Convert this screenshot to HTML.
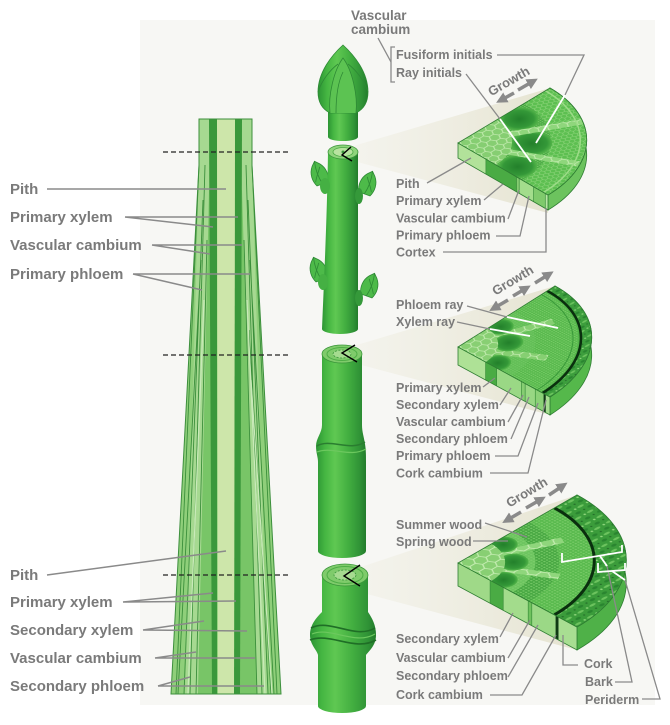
<!DOCTYPE html>
<html><head><meta charset="utf-8"><style>
html,body{margin:0;padding:0;background:#fff;}
svg{display:block;}
text{font-family:"Liberation Sans",Arial,sans-serif;font-weight:bold;fill:#7a7a7a;}
.L{font-size:15px;}
.R{font-size:12.5px;}
.ld{fill:none;stroke:#8a8a8a;stroke-width:1.5;}
.wl{fill:none;stroke:#ffffff;stroke-width:1.8;}
.ns{vector-effect:non-scaling-stroke;}
</style></head><body>
<svg width="670" height="725" viewBox="0 0 670 725" xmlns="http://www.w3.org/2000/svg">
<defs>
 <linearGradient id="stemG" x1="0" y1="0" x2="1" y2="0">
  <stop offset="0" stop-color="#2c9434"/>
  <stop offset="0.18" stop-color="#45b642"/>
  <stop offset="0.38" stop-color="#5fc852"/>
  <stop offset="0.65" stop-color="#42ae40"/>
  <stop offset="0.88" stop-color="#2f9236"/>
  <stop offset="1" stop-color="#237c2b"/>
 </linearGradient>
 <linearGradient id="coneG" x1="0" y1="0" x2="1" y2="0">
  <stop offset="0" stop-color="#f1f0e6" stop-opacity="0.5"/>
  <stop offset="1" stop-color="#e5e3d0"/>
 </linearGradient>
 <radialGradient id="bundleG" cx="0.5" cy="0.5" r="0.5">
  <stop offset="0" stop-color="#23802b"/>
  <stop offset="0.75" stop-color="#349838"/>
  <stop offset="1" stop-color="#52b449"/>
 </radialGradient>
 <pattern id="hex" patternUnits="userSpaceOnUse" width="0.135" height="0.0779">
  <path d="M0,0.039 L0.0225,0 L0.0675,0 L0.09,0.039 L0.0675,0.0779 L0.0225,0.0779 Z M0.09,0.039 L0.135,0.039" fill="none" stroke="#c6edb3" stroke-width="0.008"/>
 </pattern>
 <pattern id="hexS" patternUnits="userSpaceOnUse" width="0.075" height="0.0433">
  <path d="M0,0.02165 L0.0125,0 L0.0375,0 L0.05,0.02165 L0.0375,0.0433 L0.0125,0.0433 Z M0.05,0.02165 L0.075,0.02165" fill="none" stroke="#98da84" stroke-width="0.005"/>
 </pattern>
 <pattern id="mesh" patternUnits="userSpaceOnUse" width="0.022" height="0.022">
  <circle cx="0.011" cy="0.011" r="0.0072" fill="#7fd06e" opacity="0.8"/>
 </pattern>
 <pattern id="bark" patternUnits="userSpaceOnUse" width="0.1" height="0.08">
  <ellipse cx="0.03" cy="0.02" rx="0.025" ry="0.01" fill="#6cc35e"/>
  <ellipse cx="0.07" cy="0.06" rx="0.02" ry="0.012" fill="#2a8530"/>
  <circle cx="0.085" cy="0.02" r="0.008" fill="#8fd67c"/>
  <circle cx="0.02" cy="0.06" r="0.007" fill="#256f2a"/>
 </pattern>
 <clipPath id="secClip"><path d="M0,0 L1,0 A1,1 0 0 1 0,1 Z"/></clipPath>
 <marker id="ah" viewBox="0 0 10 10" refX="3" refY="5" markerWidth="3.2" markerHeight="3.2" orient="auto"><path d="M0,0 L10,5 L0,10 Z" fill="#8a8a8a"/></marker>
</defs>

<rect x="0" y="0" width="670" height="725" fill="#ffffff"/>
<rect x="140" y="20" width="515" height="685" fill="#f7f7f4"/>

<!-- ============ LEFT COLUMN ============ -->
<g>
 <polygon points="199,119 252,119 252,165 281,694 171,694 199,165" fill="#8fcf7a"/>
 <!-- light strips -->
 <polygon points="199,119 209,119 209,200 198,694 185,694 199,165" fill="#a6d991"/>
 <polygon points="242,119 252,119 252,165 268,694 257,694 242,200" fill="#a6d991"/>
 <!-- medium secondary bands -->
 <polygon points="209,190 212,190 212,694 198,694" fill="#78c567"/>
 <polygon points="240,190 242,190 257,694 240,694" fill="#78c567"/>
 <polygon points="209,119 217,119 217,694 212,694" fill="#3a983b"/>
 <polygon points="235,119 242,119 240,694 234,694" fill="#3a983b"/>
 <polygon points="217,119 235,119 234,694 218,694" fill="#cde6aa"/>
 <g fill="none" stroke-width="0.9">
  <path d="M205,165 L190,694 M203,200 L184,694 M201,260 L178,694 M199,165 L176,694 M207,240 L196,694" stroke="#3b8f3b"/>
  <path d="M246,165 L262,694 M248,200 L268,694 M250,260 L274,694 M252,165 L277,694 M244,240 L257,694 M249,330 L271,694" stroke="#3b8f3b"/>
  <path d="M204,300 L188,694 M247,300 L265,694 M251,380 L272,694" stroke="#c9eab9" stroke-width="1.2"/>
 </g>
 <polygon points="199,119 252,119 252,165 281,694 171,694 199,165" fill="none" stroke="#3c8f3c" stroke-width="1"/>
 <g stroke="#222" stroke-width="1.3" stroke-dasharray="5,3">
  <line x1="163" y1="152" x2="288" y2="152"/>
  <line x1="163" y1="355" x2="288" y2="355"/>
  <line x1="163" y1="575" x2="288" y2="575"/>
 </g>
</g>

<!-- left leaders -->
<g class="ld">
 <path d="M47,189 L226,189"/>
 <path d="M125,217 L238,217 M125,217 L213,227"/>
 <path d="M152,245 L242,245 M152,245 L210,254"/>
 <path d="M133,274 L250,274 M133,274 L202,290"/>
 <path d="M47,575 L226,551"/>
 <path d="M123,602 L236,601 M123,602 L213,593"/>
 <path d="M143,630 L247,631 M143,630 L204,621"/>
 <path d="M155,658 L255,658 M155,658 L196,652"/>
 <path d="M158,686 L264,686 M158,686 L190,677"/>
</g>
<text class="L" x="10" y="194">Pith</text>
<text class="L" x="10" y="222">Primary xylem</text>
<text class="L" x="10" y="250">Vascular cambium</text>
<text class="L" x="10" y="279">Primary phloem</text>
<text class="L" x="10" y="580">Pith</text>
<text class="L" x="10" y="607">Primary xylem</text>
<text class="L" x="10" y="635">Secondary xylem</text>
<text class="L" x="10" y="663">Vascular cambium</text>
<text class="L" x="10" y="691">Secondary phloem</text>

<!-- ============ CONES ============ -->
<polygon points="350,147 550,88 548,213 350,160" fill="url(#coneG)"/>
<polygon points="350,347 555,286 550,415 350,362" fill="url(#coneG)"/>
<polygon points="352,570 577,495 577,650 352,590" fill="url(#coneG)"/>

<!-- ============ STEMS ============ -->
<!-- piece 1 bud -->
<path d="M328,106 L328,137 A15,4 0 0 0 358,137 L358,106 Z" fill="url(#stemG)"/>
<path d="M343,45 C354,55 368,72 368,92 C368,104 362,110 356,113 L330,113 C324,110 318,104 318,92 C318,72 332,55 343,45 Z" fill="url(#stemG)" stroke="#2e8a35" stroke-width="0.8"/>
<path d="M330,113 C328,95 334,70 343,58 C352,70 358,95 356,113" fill="#5cc352" stroke="#2e8a35" stroke-width="0.8"/>
<path d="M318,92 C322,80 330,70 338,64 M368,92 C364,80 356,70 348,64 M336,113 C336,98 338,82 343,72" fill="none" stroke="#2e8a35" stroke-width="0.8"/>

<!-- piece 2 -->
<g>
 <g stroke="#2e8a35" stroke-width="0.8" fill="#4dba49">
  <g transform="translate(322,182) rotate(-20)"><path d="M-6,2 C-9,-4 -9,-12 -4,-18 L0,-22 L4,-18 C9,-12 9,-4 6,2 Z"/><path d="M0,2 C-2,-6 -2,-14 0,-22 M-6,-2 C-3,-8 0,-10 3,-15" fill="none"/></g>
  <g transform="translate(321,278) rotate(-20)"><path d="M-6,2 C-9,-4 -9,-12 -4,-18 L0,-22 L4,-18 C9,-12 9,-4 6,2 Z"/><path d="M0,2 C-2,-6 -2,-14 0,-22 M-6,-2 C-3,-8 0,-10 3,-15" fill="none"/></g>
  <g transform="translate(365,192) rotate(20)"><path d="M-6,2 C-9,-4 -9,-12 -4,-18 L0,-22 L4,-18 C9,-12 9,-4 6,2 Z"/><path d="M0,2 C2,-6 2,-14 0,-22 M6,-2 C3,-8 0,-10 -3,-15" fill="none"/></g>
  <g transform="translate(367,294) rotate(20)"><path d="M-6,2 C-9,-4 -9,-12 -4,-18 L0,-22 L4,-18 C9,-12 9,-4 6,2 Z"/><path d="M0,2 C2,-6 2,-14 0,-22 M6,-2 C3,-8 0,-10 -3,-15" fill="none"/></g>
 </g>
 <path d="M328,152 C327,220 324,280 322,329 A18,5 0 0 0 358,329 C358,280 358,220 358,152 Z" fill="url(#stemG)"/>
 <ellipse cx="325" cy="186" rx="5" ry="8" fill="#45b043"/>
 <ellipse cx="323" cy="282" rx="5" ry="8" fill="#45b043"/>
 <ellipse cx="359" cy="196" rx="4" ry="8" fill="#35993a"/>
 <ellipse cx="359" cy="298" rx="4" ry="8" fill="#35993a"/>
 <ellipse cx="343" cy="152" rx="15" ry="7" fill="#8fd47c" stroke="#3c963c" stroke-width="0.8"/>
 <ellipse cx="343" cy="152" rx="10" ry="4.5" fill="#b8e3a0" stroke="#4aa944" stroke-width="0.8"/>
 <circle cx="343" cy="152" r="1.5" fill="#3c963c"/>
 <polyline points="351,147 342,155 352,161" fill="none" stroke="#000" stroke-width="1.4"/>
</g>

<!-- piece 3 -->
<g>
 <path d="M322,354 L322,425 C322,433 316,438 316,446 C316,453 318,457 318,462 L318,551 A24,7 0 0 0 366,551 L366,462 C366,455 366,450 365,444 C364,437 362,432 362,425 L362,354 Z" fill="url(#stemG)"/>
 <path d="M317,446 C330,438 350,452 365,442" fill="none" stroke="#2a7d30" stroke-width="1.5"/>
 <path d="M317,452 C332,446 350,458 366,449" fill="none" stroke="#6cc85e" stroke-width="1.2"/>
 <ellipse cx="342" cy="354" rx="20" ry="9" fill="#7fcb6b" stroke="#3a963a" stroke-width="0.8"/>
 <ellipse cx="342" cy="354" rx="15" ry="6.5" fill="none" stroke="#4eae46" stroke-width="1"/>
 <ellipse cx="342" cy="354" rx="9" ry="4" fill="#a6db90" stroke="#3a963a" stroke-width="0.8" stroke-dasharray="2,1.5"/>
 <polyline points="355,345 342,353 357,362" fill="none" stroke="#000" stroke-width="1.4"/>
</g>

<!-- piece 4 -->
<g>
 <path d="M322,575 L322,612 C316,618 310,625 310,635 C310,645 317,650 318,655 L318,706 A24,7 0 0 0 366,706 L366,655 C370,650 376,645 376,635 C376,625 372,618 368,612 L368,575 Z" fill="url(#stemG)"/>
 <path d="M311,628 C330,618 355,640 375,628 M310,640 C330,632 355,652 376,640" fill="none" stroke="#1f6e26" stroke-width="1.6"/>
 <path d="M312,634 C330,626 355,646 375,634" fill="none" stroke="#6cc85e" stroke-width="1.2"/>
 <ellipse cx="345" cy="575" rx="23" ry="11" fill="#7fcb6b" stroke="#3a963a" stroke-width="0.8"/>
 <ellipse cx="345" cy="575" rx="18" ry="8.5" fill="none" stroke="#4eae46" stroke-width="1"/>
 <ellipse cx="345" cy="575" rx="11" ry="5" fill="#a6db90" stroke="#3a963a" stroke-width="0.8" stroke-dasharray="2,1.5"/>
 <polyline points="360,565 344,576 360,586" fill="none" stroke="#000" stroke-width="1.4"/>
</g>

<!-- ============ WEDGE 1 ============ -->
<path d="M550,88 C599.7,116.7 598.8,164.6 548,195 L548,210 C598.8,179.6 599.7,131.7 550,103 Z" fill="#6cc35e" stroke="#2e7d32" stroke-width="0.8"/>
<g transform="matrix(90,52,0,15,458,143)">
 <rect x="0" y="0" width="0.31" height="1" fill="#b2e29a"/>
 <rect x="0.31" y="0" width="0.34" height="1" fill="#4aab44"/>
 <rect x="0.65" y="0" width="0.03" height="1" fill="#86cc72"/>
 <rect x="0.68" y="0" width="0.16" height="1" fill="#a3dd8c"/>
 <rect x="0.84" y="0" width="0.13" height="1" fill="#7fca6c"/>
 <rect x="0.97" y="0" width="0.03" height="1" fill="#b8e6a4"/>
 <path d="M0.31,0 V1 M0.65,0 V1 M0.68,0 V1 M0.84,0 V1 M0.97,0 V1" stroke="#3a8f3a" stroke-width="0.7" class="ns"/>
 <rect x="0" y="0" width="1" height="1" fill="none" stroke="#2e7d32" stroke-width="0.8" class="ns"/>
</g>
<g transform="matrix(92,-55,90,52,458,143)">
 <path d="M0,0 L1,0 A1,1 0 0 1 0,1 Z" fill="#5dbf51"/>
 <g clip-path="url(#secClip)">
  <path d="M0.7,0 L1,0 A1,1 0 0 1 0,1 L0,0.7 A0.7,0.7 0 0 0 0.7,0 Z" fill="url(#hexS)"/>
  <path d="M0.4,0 L0.72,0 A0.72,0.72 0 0 1 0,0.72 L0,0.4 A0.4,0.4 0 0 0 0.4,0 Z" fill="#4aa944"/>
  <path d="M0.4,0 L0.72,0 A0.72,0.72 0 0 1 0,0.72 L0,0.4 A0.4,0.4 0 0 0 0.4,0 Z" fill="url(#mesh)"/>
  <circle cx="0.55" cy="0.12" r="0.15" fill="url(#bundleG)"/>
  <circle cx="0.39" cy="0.42" r="0.16" fill="url(#bundleG)"/>
  <circle cx="0.1" cy="0.56" r="0.15" fill="url(#bundleG)"/>
  <path d="M0.17,0.1 L0.86,0.5 M0.09,0.18 L0.45,0.88" stroke="#8fd67c" stroke-width="0.07"/>
  <path d="M0.17,0.1 L0.86,0.5 M0.09,0.18 L0.45,0.88" stroke="url(#hex)" stroke-width="0.07"/>
  <path d="M0,0 L0.42,0 A0.42,0.42 0 0 1 0,0.42 Z" fill="#86ce72"/>
  <path d="M0,0 L0.42,0 A0.42,0.42 0 0 1 0,0.42 Z" fill="url(#hex)"/>
  <path d="M0.95,0 A0.95,0.95 0 0 1 0,0.95" fill="none" stroke="#9ddc88" stroke-width="1.5" class="ns"/>
 </g>
 <path d="M0,0 L1,0 A1,1 0 0 1 0,1 Z" fill="none" stroke="#2e7d32" stroke-width="0.8" class="ns"/>
</g>

<!-- ============ WEDGE 2 ============ -->
<path d="M555,286 C605.8,313.6 603.6,363.3 550,397 L550,415 C603.6,381.3 605.8,331.6 555,304 Z" fill="#55b84b" stroke="#2e7d32" stroke-width="0.8"/>
<g transform="matrix(92,50,0,18,458,347)">
 <rect x="0" y="0" width="0.3" height="1" fill="#aee196"/>
 <rect x="0.3" y="0" width="0.12" height="1" fill="#4aab44"/>
 <rect x="0.42" y="0" width="0.27" height="1" fill="#9ad885"/>
 <rect x="0.69" y="0" width="0.04" height="1" fill="#86cd72"/>
 <rect x="0.73" y="0" width="0.11" height="1" fill="#98d783"/>
 <rect x="0.84" y="0" width="0.09" height="1" fill="#8bd177"/>
 <rect x="0.93" y="0" width="0.025" height="1" fill="#0f3a14"/>
 <rect x="0.955" y="0" width="0.045" height="1" fill="#a6de90"/>
 <path d="M0.3,0 V1 M0.42,0 V1 M0.69,0 V1 M0.73,0 V1 M0.84,0 V1" stroke="#3a8f3a" stroke-width="0.7" class="ns"/>
 <rect x="0" y="0" width="1" height="1" fill="none" stroke="#2e7d32" stroke-width="0.8" class="ns"/>
</g>
<g transform="matrix(97,-61,92,50,458,347)">
 <path d="M0,0 L1,0 A1,1 0 0 1 0,1 Z" fill="#52b449"/>
 <g clip-path="url(#secClip)">
  <path d="M0.92,0 L1,0 A1,1 0 0 1 0,1 L0,0.92 A0.92,0.92 0 0 0 0.92,0 Z" fill="#3d9e3d"/>
  <path d="M0.92,0 L1,0 A1,1 0 0 1 0,1 L0,0.92 A0.92,0.92 0 0 0 0.92,0 Z" fill="url(#bark)"/>
  <path d="M0.3,0 L0.9,0 A0.9,0.9 0 0 1 0,0.9 L0,0.3 A0.3,0.3 0 0 0 0.3,0 Z" fill="#57b84c"/>
  <path d="M0.3,0 L0.9,0 A0.9,0.9 0 0 1 0,0.9 L0,0.3 A0.3,0.3 0 0 0 0.3,0 Z" fill="url(#mesh)"/>
  <path d="M0.3,0 L0.58,0 A0.58,0.58 0 0 1 0,0.58 L0,0.3 A0.3,0.3 0 0 0 0.3,0 Z" fill="#6cc45f" opacity="0.5"/>
  <path d="M0.27,0.127 L0.68,0.317 M0.14,0.265 L0.33,0.62" stroke="#86cf72" stroke-width="0.07"/>
  <path d="M0.27,0.127 L0.68,0.317 M0.14,0.265 L0.33,0.62" stroke="url(#hex)" stroke-width="0.07"/>
  <circle cx="0.38" cy="0.06" r="0.1" fill="url(#bundleG)"/>
  <circle cx="0.28" cy="0.255" r="0.11" fill="url(#bundleG)"/>
  <circle cx="0.05" cy="0.38" r="0.1" fill="url(#bundleG)"/>
  <path d="M0,0 L0.3,0 A0.3,0.3 0 0 1 0,0.3 Z" fill="#88cf73"/>
  <path d="M0,0 L0.3,0 A0.3,0.3 0 0 1 0,0.3 Z" fill="url(#hex)"/>
  <path d="M0.86,0 A0.86,0.86 0 0 1 0,0.86" fill="none" stroke="#3a9a3a" stroke-width="1" class="ns"/>
  <path d="M0.92,0 A0.92,0.92 0 0 1 0,0.92" fill="none" stroke="#0a2f0e" stroke-width="2.6" class="ns"/>
 </g>
 <path d="M0,0 L1,0 A1,1 0 0 1 0,1 Z" fill="none" stroke="#2e7d32" stroke-width="0.8" class="ns"/>
</g>

<!-- ============ WEDGE 3 ============ -->
<path d="M577,495 C642.7,530.3 642.7,589.4 577,627 L577,650 C642.7,612.4 642.7,553.3 577,518 Z" fill="#4fb148" stroke="#2e7d32" stroke-width="0.8"/>
<g transform="matrix(119,64,0,23,458,563)">
 <rect x="0" y="0" width="0.27" height="1" fill="#9fd988"/>
 <rect x="0.27" y="0" width="0.11" height="1" fill="#4aab44"/>
 <rect x="0.38" y="0" width="0.21" height="1" fill="#a3dc8c"/>
 <rect x="0.59" y="0" width="0.03" height="1" fill="#6fc25e"/>
 <rect x="0.62" y="0" width="0.2" height="1" fill="#9bd886"/>
 <rect x="0.82" y="0" width="0.025" height="1" fill="#0f3a14"/>
 <rect x="0.845" y="0" width="0.155" height="1" fill="#a8de92"/>
 <path d="M0.27,0 V1 M0.38,0 V1 M0.59,0 V1 M0.62,0 V1" stroke="#3a8f3a" stroke-width="0.7" class="ns"/>
 <rect x="0" y="0" width="1" height="1" fill="none" stroke="#2e7d32" stroke-width="0.8" class="ns"/>
</g>
<g transform="matrix(119,-68,119,64,458,563)">
 <path d="M0,0 L1,0 A1,1 0 0 1 0,1 Z" fill="#55b84b"/>
 <g clip-path="url(#secClip)">
  <path d="M0.81,0 L1,0 A1,1 0 0 1 0,1 L0,0.81 A0.81,0.81 0 0 0 0.81,0 Z" fill="#3b9c3b"/>
  <path d="M0.81,0 L1,0 A1,1 0 0 1 0,1 L0,0.81 A0.81,0.81 0 0 0 0.81,0 Z" fill="url(#bark)"/>
  <path d="M0.6,0 L0.81,0 A0.81,0.81 0 0 1 0,0.81 L0,0.6 A0.6,0.6 0 0 0 0.6,0 Z" fill="#58b94d"/>
  <path d="M0.46,0 L0.6,0 A0.6,0.6 0 0 1 0,0.6 L0,0.46 A0.46,0.46 0 0 0 0.46,0 Z" fill="#47a742"/>
  <path d="M0.28,0 L0.46,0 A0.46,0.46 0 0 1 0,0.46 L0,0.28 A0.28,0.28 0 0 0 0.28,0 Z" fill="#6cc45f"/>
  <path d="M0.28,0 L0.81,0 A0.81,0.81 0 0 1 0,0.81 L0,0.28 A0.28,0.28 0 0 0 0.28,0 Z" fill="url(#mesh)"/>
  <path d="M0.18,0.084 L0.6,0.28 M0.1,0.173 L0.31,0.54" stroke="#8fd67c" stroke-width="0.06"/>
  <path d="M0.18,0.084 L0.6,0.28 M0.1,0.173 L0.31,0.54" stroke="url(#hex)" stroke-width="0.06"/>
  <circle cx="0.325" cy="0.057" r="0.085" fill="url(#bundleG)"/>
  <circle cx="0.233" cy="0.233" r="0.09" fill="url(#bundleG)"/>
  <circle cx="0.057" cy="0.325" r="0.085" fill="url(#bundleG)"/>
  <path d="M0,0 L0.28,0 A0.28,0.28 0 0 1 0,0.28 Z" fill="#88cf73"/>
  <path d="M0,0 L0.28,0 A0.28,0.28 0 0 1 0,0.28 Z" fill="url(#hex)"/>
  <path d="M0.81,0 A0.81,0.81 0 0 1 0,0.81" fill="none" stroke="#0a2f0e" stroke-width="3" class="ns"/>
 </g>
 <path d="M0,0 L1,0 A1,1 0 0 1 0,1 Z" fill="none" stroke="#2e7d32" stroke-width="0.8" class="ns"/>
</g>

<!-- ============ RIGHT LABELS & LEADERS ============ -->
<text x="351" y="20" style="font-size:13.5px">Vascular</text>
<text x="351" y="34" style="font-size:13.5px">cambium</text>
<g class="ld" style="stroke-width:1.3">
 <path d="M378,38 L391,62"/>
 <path d="M395,47 L391,47 L391,82 L395,82"/>
 <path d="M497,55 L584,55 L565,95"/>
 <path d="M466,74 L500,119"/>
 <path d="M427,183 L471,158"/>
 <path d="M484,200 L503,184"/>
 <path d="M508,219 L519,190"/>
 <path d="M496,236 L520,236 L529,196"/>
 <path d="M443,252 L546,252 L546,208"/>
 <path d="M467,306 L507,317"/>
 <path d="M457,322 L490,329"/>
 <path d="M483,387 L495,378"/>
 <path d="M500,405 L511,388"/>
 <path d="M508,422 L523,395"/>
 <path d="M511,439 L529,397"/>
 <path d="M495,456 L518,456 L538,403"/>
 <path d="M490,473 L528,473 L546,400"/>
 <path d="M485,523 L527,537"/>
 <path d="M473,541 L508,541"/>
 <path d="M500,637 L513,613"/>
 <path d="M508,658 L530,620"/>
 <path d="M508,677 L538,625"/>
 <path d="M490,695 L522,695 L556,635"/>
 <path d="M563,635 L563,665 L578,665"/>
 <path d="M615,682 L632,682 L607,566"/>
 <path d="M642,699 L660,699 L625,580"/>
</g>
<g class="wl">
 <path d="M565,95 L536,143"/>
 <path d="M500,119 L531,162"/>
 <path d="M507,317 L558,328"/>
 <path d="M490,329 L530,336"/>
 <path d="M562,553 L562,562 L622,552 L622,545"/>
 <path d="M598,563 L598,572 L625,570 L625,563"/>
 <path d="M600,556 L607,566"/>
 <path d="M612,571 L625,580"/>
</g>

<text class="R" x="396" y="59">Fusiform initials</text>
<text class="R" x="396" y="77">Ray initials</text>
<text class="R" x="396" y="188">Pith</text>
<text class="R" x="396" y="205">Primary xylem</text>
<text class="R" x="396" y="222.5">Vascular cambium</text>
<text class="R" x="396" y="239.5">Primary phloem</text>
<text class="R" x="396" y="256.5">Cortex</text>

<text class="R" x="396" y="309">Phloem ray</text>
<text class="R" x="396" y="326">Xylem ray</text>
<text class="R" x="396" y="392">Primary xylem</text>
<text class="R" x="396" y="409">Secondary xylem</text>
<text class="R" x="396" y="426">Vascular cambium</text>
<text class="R" x="396" y="443">Secondary phloem</text>
<text class="R" x="396" y="460">Primary phloem</text>
<text class="R" x="396" y="477.5">Cork cambium</text>

<text class="R" x="396" y="529">Summer wood</text>
<text class="R" x="396" y="546">Spring wood</text>
<text class="R" x="396" y="643">Secondary xylem</text>
<text class="R" x="396" y="662">Vascular cambium</text>
<text class="R" x="396" y="680">Secondary phloem</text>
<text class="R" x="396" y="699">Cork cambium</text>
<text class="R" x="584" y="668">Cork</text>
<text class="R" x="585" y="686">Bark</text>
<text class="R" x="585" y="704">Periderm</text>

<!-- Growth labels -->
<text class="R" text-anchor="middle" transform="translate(511,85) rotate(-30)" style="font-size:13px">Growth</text>
<g stroke="#8a8a8a" stroke-width="3.5" marker-end="url(#ah)">
 <line x1="514" y1="93" x2="503" y2="99"/>
 <line x1="518" y1="90" x2="531" y2="82.5"/>
</g>
<text class="R" text-anchor="middle" transform="translate(515,284) rotate(-31)" style="font-size:13px">Growth</text>
<g stroke="#8a8a8a" stroke-width="3.5" marker-end="url(#ah)">
 <line x1="508" y1="300" x2="496" y2="307"/>
 <line x1="513" y1="296" x2="524" y2="289.5"/>
 <line x1="535" y1="283" x2="547" y2="275.5"/>
</g>
<text class="R" text-anchor="middle" transform="translate(529,496) rotate(-31)" style="font-size:13px">Growth</text>
<g stroke="#8a8a8a" stroke-width="3.5" marker-end="url(#ah)">
 <line x1="521" y1="512" x2="509" y2="519"/>
 <line x1="526" y1="508" x2="539" y2="500.5"/>
 <line x1="549" y1="495" x2="561" y2="487"/>
</g>
</svg>
</body></html>
